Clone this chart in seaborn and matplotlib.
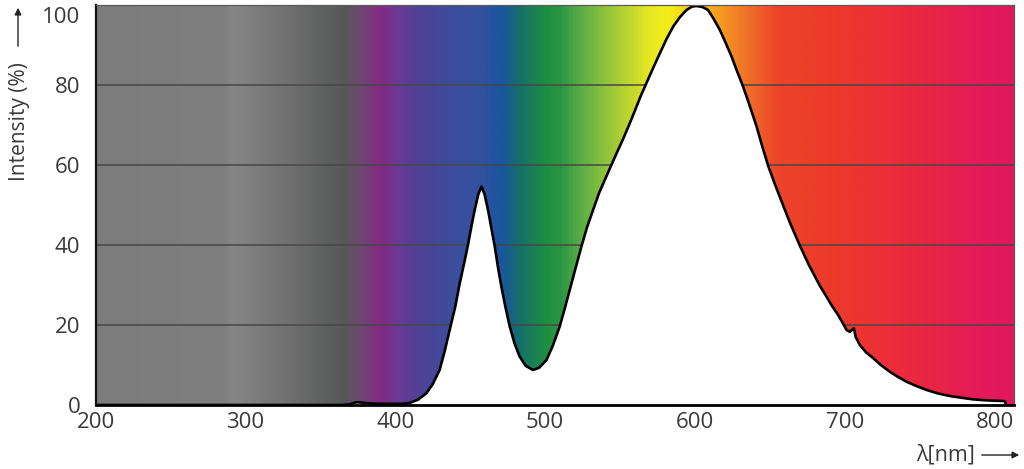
import numpy as np
import matplotlib
matplotlib.use("Agg")
import matplotlib.pyplot as plt
import matplotlib.transforms as mtransforms
from matplotlib.colors import LinearSegmentedColormap
from matplotlib.patches import FancyArrowPatch
import seaborn as sns

# ============================================
# Data
# ============================================
wavelength = [
    200, 365, 370, 374, 378, 382, 390, 400, 405, 409.6, 415, 420.7, 425, 429.6,
    433, 436.3, 440, 443, 446, 448.5, 451, 453, 455.5, 457.5, 459.5, 461.9, 464,
    466.4, 468.5, 470.8, 473.5, 476.4, 479.5, 483, 487, 491.9, 496, 500.9, 505,
    509.7, 513, 516.4, 520, 524.2, 528, 532, 536, 540.9, 544.2, 548, 552, 556,
    559.8, 563.5, 567.6, 572, 576.5, 581, 585.4, 590, 594.3, 598, 601, 605,
    608.7, 612.5, 616.6, 620.5, 624.4, 628, 632.1, 636.5, 641.1, 645, 648.8,
    653.5, 658.9, 663.3, 670, 676, 683.3, 687.7, 691.5, 695.5, 699, 701.1,
    703.3, 704.8, 706, 707.2, 710, 714, 718.9, 724, 730, 735.5, 741.2, 748,
    754.5, 762, 770, 778, 785.7, 795, 805.7, 806.8, 807.6,
]
intensity = [
    0, 0, 0.2, 0.7, 0.6, 0.4, 0.3, 0.3, 0.3, 0.5, 1.3, 2.9, 5.2, 8.75,
    13.5, 18.75, 24.5, 30.4, 35.5, 40, 45, 48.75, 52.8, 54.6, 52.8, 48.75, 44.5,
    39.6, 34.5, 29.6, 24.5, 19.6, 15.5, 12.1, 9.8, 8.75, 9.3, 11.25, 14.7,
    19.6, 24, 28.75, 33.8, 39.6, 44.5, 48.75, 53, 57.2, 60, 63.2, 66.5, 70,
    73.5, 77, 80.5, 84.2, 87.9, 91.5, 94.6, 97, 98.75, 99.6, 99.75, 99.5,
    98.75, 96.5, 93.75, 90.5, 87.1, 83.5, 79.6, 74.8, 69.6, 64.5, 59.8,
    55, 49.8, 45.6, 39.8, 35, 29.8, 27.1, 24.7, 22.5, 20.2, 18.75,
    18.3, 18.8, 19.2, 17.0, 15.0, 13.2, 11.7, 10.0, 8.3, 7.0, 5.8, 4.7,
    3.75, 2.9, 2.25, 1.8, 1.4, 1.15, 1.0, 0.9, 0,
]

# background spectrum colour stops (wavelength -> colour)
stop_nm = [200, 285, 289.5, 329.5, 365, 374, 389.6, 401, 416, 441, 456, 470,
           483, 501, 510, 525, 548, 570, 583, 615, 632, 655, 692, 725, 759,
           792, 812.5]
stop_colors = ["#7c7c7c", "#7f7f7f", "#858685", "#6e6f6e", "#555856", "#6a4a6e",
               "#842a84", "#6a3a95", "#4e4296", "#3a4f9e", "#3550a0", "#1a55a0",
               "#15706a", "#1e9040", "#2a9545", "#60b045", "#a8cc35", "#e8e820",
               "#f5ec1a", "#f5a020", "#f07828", "#ec4528", "#ec3a2a", "#ec3038",
               "#e82545", "#e41a5c", "#e2185f"]

y_ticks = [0, 20, 40, 60, 80, 100]
x_ticks = [200, 300, 400, 500, 600, 700, 800]
X_MIN, X_MAX = 200, 812.5

# ============================================
# Style
# ============================================
sns.set_style("white")
plt.rcParams["font.family"] = ["Open Sans", "DejaVu Sans"]
TEXT_COLOR = "#3a3a3a"

fig = plt.figure(figsize=(10.24, 4.69), dpi=100)
ax = fig.add_axes([95.5 / 1024, 64 / 469, 918 / 1024, 400 / 469])

# spectrum gradient
span = X_MAX - X_MIN
cmap = LinearSegmentedColormap.from_list(
    "spectrum", [((n - X_MIN) / span, c) for n, c in zip(stop_nm, stop_colors)])
grad = np.linspace(0, 1, 1500)[None, :]
ax.imshow(grad, extent=[X_MIN, X_MAX, 0, 100], aspect="auto", cmap=cmap,
          origin="lower", zorder=0, interpolation="bilinear")

# grid lines (hidden under the white area)
for yv in y_ticks[1:-1]:
    ax.axhline(yv, color="#474747", lw=1.1, zorder=1)

# white area under the curve + outline
ax.fill_between(wavelength, intensity, 0, color="white", lw=0, zorder=2)
sns.lineplot(x=wavelength, y=intensity, color="black", lw=1.9, ax=ax,
             zorder=3, sort=False, estimator=None)

ax.set_xlim(X_MIN, X_MAX)
ax.set_ylim(0, 100)
ax.set_xticks(x_ticks)
ax.set_yticks(y_ticks)
ax.tick_params(length=0, labelsize=16, colors=TEXT_COLOR)
ax.tick_params(axis="x", pad=5)
ax.tick_params(axis="y", pad=11)
ax.set_xlabel("")
ax.set_ylabel("")

# spines
for side in ["top", "right"]:
    ax.spines[side].set_color("#5a5a5a")
    ax.spines[side].set_linewidth(0.9)
ax.spines["left"].set_color("#111111")
ax.spines["left"].set_linewidth(1.6)
ax.spines["bottom"].set_color("black")
ax.spines["bottom"].set_linewidth(2.0)
for s in ax.spines.values():
    s.set_zorder(4)

# nudge the top "100" label down so it stays inside the figure
top_lab = ax.get_yticklabels()[-1]
top_lab.set_transform(top_lab.get_transform() +
                      mtransforms.ScaledTranslation(0, -10 / 100, fig.dpi_scale_trans))

# axis titles with arrows
fig.text(20 / 1024, 1 - 122 / 469, "Intensity (%)", rotation=90, ha="center",
         va="center", fontsize=15, color=TEXT_COLOR)
fig.text(975 / 1024, 1 - 455 / 469, "λ[nm]", ha="right", va="center",
         fontsize=15.5, color=TEXT_COLOR)
fig.patches.append(FancyArrowPatch(
    (18, 469 - 49), (18, 469 - 5), transform=None, arrowstyle="-|>",
    mutation_scale=10, color="#222222", lw=1.0))
fig.patches.append(FancyArrowPatch(
    (979, 469 - 455), (1022, 469 - 455), transform=None, arrowstyle="-|>",
    mutation_scale=10, color="#222222", lw=1.0))

fig.savefig("out.png", dpi=100)
